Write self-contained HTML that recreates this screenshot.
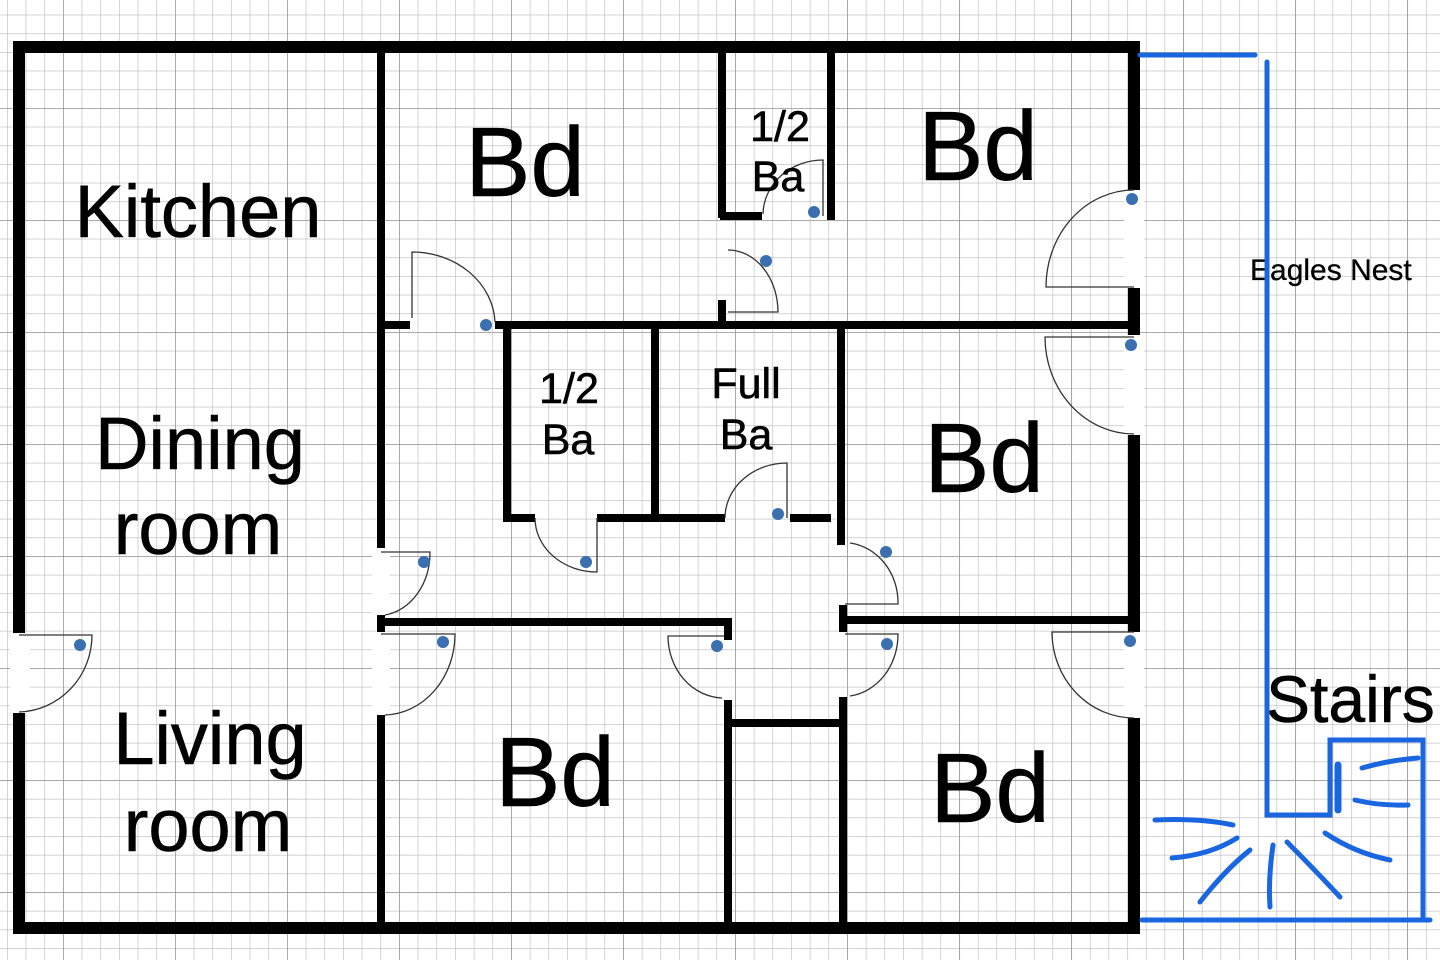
<!DOCTYPE html>
<html><head><meta charset="utf-8"><style>
html,body{margin:0;padding:0;background:#fff;}
svg{display:block;}
text{font-family:"Liberation Sans",sans-serif;fill:#000;stroke:#000;stroke-width:0.6;}
</style></head><body>
<svg width="1440" height="960" viewBox="0 0 1440 960" xmlns="http://www.w3.org/2000/svg">
<defs>
<pattern id="g" x="7" y="-4" width="18.67" height="18.67" patternUnits="userSpaceOnUse">
<path d="M0,0 V18.67 M0,0 H18.67" stroke="#b8b8b8" stroke-width="1.2" fill="none"/>
</pattern>
<pattern id="G" x="63" y="-4" width="112" height="112" patternUnits="userSpaceOnUse">
<path d="M0,0 V112 M0,0 H112" stroke="#888" stroke-width="1.3" fill="none"/>
</pattern>
</defs>
<rect width="1440" height="960" fill="url(#g)"/>
<rect width="1440" height="960" fill="url(#G)"/>

<g fill="#fff">
<rect x="10" y="633" width="20" height="80"/>
<rect x="372" y="548" width="18" height="67"/>
<rect x="372" y="632" width="18" height="83"/>
<rect x="1124" y="190" width="20" height="98"/>
<rect x="1124" y="335" width="20" height="100"/>
<rect x="1124" y="632" width="20" height="86"/>
</g>

<g stroke="#000" fill="none" stroke-linecap="butt">
<g stroke-width="12">
<path d="M19,633 V47 H1134 V190"/>
<path d="M19,713 V928 H1134 V718"/>
<path d="M1134,288 V335"/>
<path d="M1134,435 V632"/>
</g>
<g stroke-width="8">
<path d="M381,47 V548"/>
<path d="M381,615 V632"/>
<path d="M381,715 V928"/>
<path d="M381,325 H410"/>
<path d="M495,325 H1134"/>
<path d="M722,47 V218 M720,216 H762"/>
<path d="M722,300 V325"/>
<path d="M831,47 V220"/>
<path d="M507,325 V518 H535"/>
<path d="M597,518 H725"/>
<path d="M655,325 V518"/>
<path d="M790,518 H831"/>
<path d="M841,325 V545"/>
<path d="M843,605 V632"/>
<path d="M843,697 V928"/>
<path d="M381,622 H728 V640"/>
<path d="M728,700 V928"/>
<path d="M728,723 H843"/>
<path d="M843,620 H1134"/>
</g>
</g>

<g stroke="#333" stroke-width="1.3" fill="none">
<path d="M19,635 L92,635 A75,77 0 0 1 19,712"/>
<path d="M381,552 L430,552 A52,63 0 0 1 385,615"/>
<path d="M381,634 L455,634 A72,81 0 0 1 385,715"/>
<path d="M412,318 L412,252 A83,73 0 0 1 495,322"/>
<path d="M728,250 A50,62 0 0 1 778,312 L728,312"/>
<path d="M763,214 A60,55 0 0 1 823,160 L823,216"/>
<path d="M1134,287 L1046,287 A88,97 0 0 1 1134,190"/>
<path d="M1134,337 L1045,337 A89,97 0 0 0 1134,434"/>
<path d="M1134,632 L1052,632 A82,86 0 0 0 1134,718"/>
<path d="M597,518 L597,572 A62,54 0 0 1 535,518"/>
<path d="M787,518 L787,463 A62,55 0 0 0 725,518"/>
<path d="M845,604 L898,604 A55,60 0 0 0 850,543"/>
<path d="M845,634 L898,634 A55,62 0 0 1 850,696"/>
<path d="M724,636 L668,636 A56,62 0 0 0 722,698"/>
</g>
<g fill="#3a6fb0">
<circle cx="80" cy="645" r="6"/><circle cx="424" cy="562" r="6"/><circle cx="443" cy="642" r="6"/>
<circle cx="486" cy="325" r="6"/><circle cx="766" cy="261" r="6"/><circle cx="814" cy="212" r="6"/>
<circle cx="1132" cy="199" r="6"/><circle cx="1131" cy="345" r="6"/><circle cx="1130" cy="641" r="6"/>
<circle cx="586" cy="562" r="6"/><circle cx="778" cy="514" r="6"/><circle cx="886" cy="552" r="6"/>
<circle cx="887" cy="644" r="6"/><circle cx="717" cy="646" r="6"/>
</g>

<g text-anchor="middle">
<text x="198" y="237" font-size="74">Kitchen</text>
<text x="200" y="469" font-size="74">Dining</text>
<text x="198" y="554" font-size="74">room</text>
<text x="210" y="764" font-size="74">Living</text>
<text x="208" y="851" font-size="74">room</text>
<text x="525" y="196" font-size="98">Bd</text>
<text x="978" y="180" font-size="98">Bd</text>
<text x="984" y="492" font-size="98">Bd</text>
<text x="555" y="806" font-size="98">Bd</text>
<text x="990" y="822" font-size="98">Bd</text>
<text x="780" y="141" font-size="43">1/2</text>
<text x="778" y="191" font-size="43">Ba</text>
<text x="569" y="403" font-size="43">1/2</text>
<text x="568" y="454" font-size="43">Ba</text>
<text x="746" y="398" font-size="43">Full</text>
<text x="746" y="449" font-size="43">Ba</text>
</g>
<text x="1250" y="280" font-size="30" style="stroke-width:0.3">Eagles Nest</text>
<text x="1266" y="722" font-size="66">Stairs</text>

<g stroke="#1a66e0" stroke-width="5" fill="none" stroke-linecap="round">
<path d="M1140,55 H1255"/>
<path d="M1267,62 V815 H1330 V740 H1423 V917"/>
<path d="M1142,920 H1430"/>
<path d="M1338,765 V810" stroke-width="7"/>
<path d="M1362,768 Q1390,760 1418,758"/>
<path d="M1355,800 Q1380,806 1408,805"/>
<path d="M1155,820 Q1200,818 1233,825"/>
<path d="M1172,858 Q1210,855 1237,838"/>
<path d="M1200,902 Q1225,870 1250,850"/>
<path d="M1273,845 Q1268,880 1270,907"/>
<path d="M1287,842 Q1315,870 1340,897"/>
<path d="M1325,833 Q1355,853 1390,860"/>
</g>
</svg>
</body></html>
